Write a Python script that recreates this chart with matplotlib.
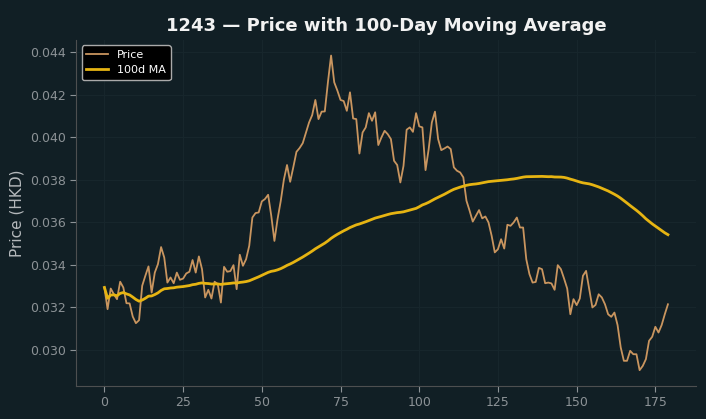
import matplotlib
matplotlib.use("Agg")
import matplotlib.pyplot as plt
import numpy as np
import pandas as pd

# daily closing price (days 0..179)
price = [
    0.03294, 0.03192, 0.03289, 0.03262, 0.03239, 0.03321, 0.03294, 0.03220, 0.03219, 0.03157,
    0.03126, 0.03140, 0.03302, 0.03349, 0.03393, 0.03270, 0.03364, 0.03404, 0.03484, 0.03435,
    0.03317, 0.03341, 0.03314, 0.03364, 0.03330, 0.03336, 0.03360, 0.03368, 0.03423, 0.03364,
    0.03440, 0.03380, 0.03247, 0.03283, 0.03242, 0.03321, 0.03310, 0.03223, 0.03391, 0.03368,
    0.03371, 0.03399, 0.03286, 0.03448, 0.03396, 0.03427, 0.03490, 0.03623, 0.03644, 0.03647,
    0.03699, 0.03710, 0.03730, 0.03631, 0.03513, 0.03616, 0.03700, 0.03801, 0.03870, 0.03791,
    0.03860, 0.03932, 0.03950, 0.03973, 0.04022, 0.04070, 0.04105, 0.04176, 0.04086, 0.04121,
    0.04122, 0.04260, 0.04385, 0.04259, 0.04220, 0.04176, 0.04171, 0.04125, 0.04212, 0.04089,
    0.04086, 0.03924, 0.04023, 0.04047, 0.04114, 0.04078, 0.04118, 0.03964, 0.04000, 0.04031,
    0.04015, 0.03992, 0.03890, 0.03870, 0.03788, 0.03866, 0.04036, 0.04047, 0.04026, 0.04114,
    0.04052, 0.04047, 0.03846, 0.03945, 0.04070, 0.04121, 0.03992, 0.03940, 0.03948, 0.03957,
    0.03945, 0.03859, 0.03843, 0.03835, 0.03812, 0.03702, 0.03655, 0.03604, 0.03631, 0.03658,
    0.03619, 0.03628, 0.03600, 0.03537, 0.03459, 0.03474, 0.03521, 0.03477, 0.03589, 0.03584,
    0.03600, 0.03623, 0.03576, 0.03576, 0.03427, 0.03357, 0.03317, 0.03320, 0.03386, 0.03380,
    0.03314, 0.03317, 0.03313, 0.03283, 0.03399, 0.03380, 0.03336, 0.03289, 0.03168, 0.03239,
    0.03211, 0.03242, 0.03349, 0.03372, 0.03286, 0.03200, 0.03212, 0.03262, 0.03247, 0.03215,
    0.03168, 0.03156, 0.03176, 0.03117, 0.03012, 0.02949, 0.02949, 0.02996, 0.02980, 0.02980,
    0.02905, 0.02925, 0.02957, 0.03043, 0.03062, 0.03109, 0.03082, 0.03117, 0.03168, 0.03215,
]

ticker = "1243"
ma_window = 100

bg = "#111f25"

s = pd.Series(price)
ma = s.rolling(ma_window, min_periods=1).mean()

fig, ax = plt.subplots(figsize=(7.06, 4.19), dpi=100)
fig.patch.set_facecolor(bg)
ax.set_facecolor(bg)
fig.subplots_adjust(left=0.108, right=0.986, bottom=0.079, top=0.905)

ax.plot(s.index, s.values, color="#c9955f", linewidth=1.3, label="Price")
ax.plot(ma.index, ma.values, color="#e6b412", linewidth=2, label="100d MA")

ax.grid(True, color="#17262c", linewidth=0.8)
ax.set_axisbelow(True)
for side in ["top", "right"]:
    ax.spines[side].set_visible(False)
for side in ["left", "bottom"]:
    ax.spines[side].set_color("#4d4f50")
ax.tick_params(colors="#8c9296", labelsize=9, length=4)
ax.yaxis.set_major_formatter(matplotlib.ticker.FormatStrFormatter("%.3f"))

ax.set_ylabel("Price (HKD)", color="#b5b9bc", fontsize=11)
ax.set_title(f"{ticker} \u2014 Price with {ma_window}-Day Moving Average",
             color="#f2f2f2", fontsize=13, fontweight="bold")

leg = ax.legend(loc="upper left", fontsize=8, facecolor="black",
                edgecolor="#aaaaaa", framealpha=1)
for t in leg.get_texts():
    t.set_color("white")

fig.savefig("out.png", dpi=100, facecolor=bg)
